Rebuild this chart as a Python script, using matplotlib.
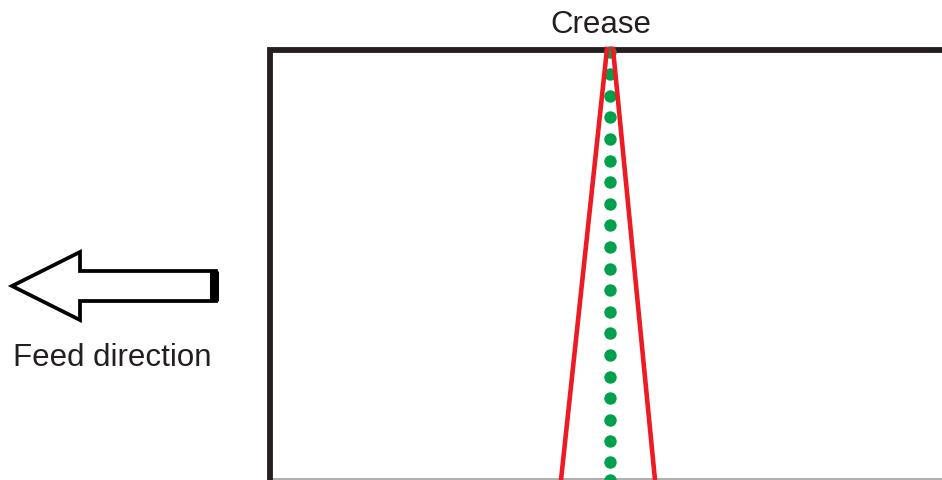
import matplotlib
matplotlib.use('Agg')
import matplotlib.pyplot as plt
from matplotlib.patches import Polygon

plt.rcParams['font.family'] = ['Liberation Sans', 'DejaVu Sans']

# sheet outline (pixel coords, y down)
box_left = 270
box_top = 51
box_bottom = 480
box_right = 942

# crease: two red edges and the green dotted centre line
red_left_x = [607, 561]
red_right_x = [613, 655]
red_y = [50, 481]
dot_x = 610
dot_y = [53, 75, 97, 118, 140, 162, 183, 205, 226, 248, 270, 291, 313, 334,
         356, 378, 399, 421, 442, 463, 481]

# feed arrow outline
arrow_x = [12, 80, 80, 216, 216, 80, 80]
arrow_y = [287, 253, 272, 272, 302, 302, 321]

fig = plt.figure(figsize=(9.42, 4.81), dpi=100)
ax = fig.add_axes([0, 0, 1, 1])
ax.set_xlim(0, 942)
ax.set_ylim(481, 0)
ax.axis('off')

ax.plot([box_left, box_right], [box_bottom, box_bottom], color='#a0a0a0', lw=1.2)
ax.plot([box_left, box_left, box_right], [box_bottom + 2, box_top, box_top],
        color='#231f20', lw=4.2, solid_joinstyle='miter')

ax.scatter([dot_x] * len(dot_y), dot_y, s=80, color='#00a14b', zorder=3, linewidths=0)
ax.plot(red_left_x, red_y, color='#ed1c24', lw=3.3, zorder=4)
ax.plot(red_right_x, red_y, color='#ed1c24', lw=3.3, zorder=4)

arrow = Polygon(list(zip(arrow_x, arrow_y)), closed=True, fill=False,
                edgecolor='black', lw=2.7, joinstyle='miter')
ax.add_patch(arrow)
ax.plot([214, 214], [arrow_y[2], arrow_y[4]], color='black', lw=6.5, solid_capstyle='butt')

ax.text(601, 25, 'Crease', fontsize=22.5, ha='center', va='center', color='#231f20')
ax.text(112, 358, 'Feed direction', fontsize=22.5, ha='center', va='center', color='#231f20')

fig.savefig('out.png', dpi=100)
